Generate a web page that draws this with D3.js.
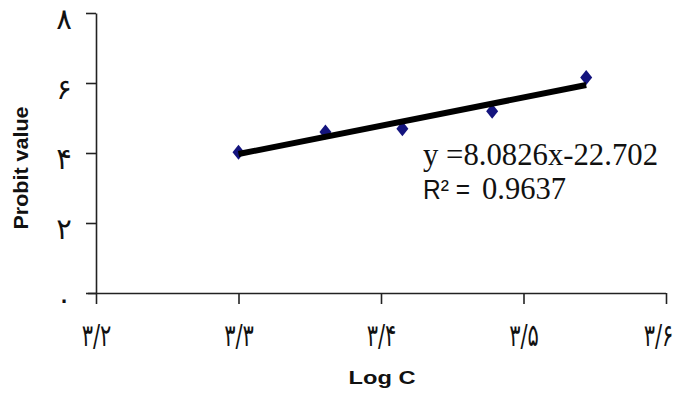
<!DOCTYPE html>
<html>
<head>
<meta charset="utf-8">
<script src="https://cdn.jsdelivr.net/npm/d3@7"></script>
<style>
  body { margin: 0; background: #fff; }
</style>
</head>
<body>
<svg id="chart"></svg>
<script>
// data
let logC = [3.30, 3.361, 3.415, 3.478, 3.544];
let probit = [4.02, 4.60, 4.69, 5.19, 6.16];
let xTicks = [3.2, 3.3, 3.4, 3.5, 3.6];
let xTickLabels = ["۳/۲", "۳/۳", "۳/۴", "۳/۵", "۳/۶"];
let yTicks = [0, 2, 4, 6, 8];
let yTickLabels = ["٠", "۲", "۴", "۶", "۸"];
let slope = 8.0826, intercept = -22.702;
let equationText = "y =8.0826x-22.702";
let r2Label = "R² =";
let r2Value = "0.9637";

let width = 683, height = 394;

let svg = d3.select("#chart")
  .attr("width", width)
  .attr("height", height);

let x = d3.scaleLinear().domain([3.2, 3.6]).range([96, 666]);
let y = d3.scaleLinear().domain([0, 8]).range([293, 13]);

// x axis
let xAxis = svg.append("g")
  .attr("transform", `translate(0,${y(0)})`)
  .call(d3.axisBottom(x).tickValues(xTicks).tickSize(11).tickSizeOuter(0).tickFormat((d, i) => xTickLabels[i]));

xAxis.select(".domain").attr("d", `M${x(3.2) - 8},0.5H${x(3.6)}`);
xAxis.selectAll("line, path").attr("stroke", "#222").attr("stroke-width", 1.6);
// labels squeezed sideways like the original
xAxis.selectAll("text")
  .attr("y", 42)
  .attr("dy", "0.35em")
  .attr("transform", "scale(0.68,1)")
  .attr("fill", "#111")
  .style("font-family", "'DejaVu Sans', sans-serif")
  .style("font-size", "31px");

// keep the last label inside the page
xAxis.selectAll(".tick").filter(d => d === 3.6).select("text")
  .attr("x", -8 / 0.68);

// y axis
let yAxis = svg.append("g")
  .attr("transform", `translate(${x(3.2)},0)`)
  .call(d3.axisLeft(y).tickValues(yTicks).tickSize(10).tickSizeOuter(0).tickFormat((d, i) => yTickLabels[i]));

yAxis.selectAll("line, path").attr("stroke", "#222").attr("stroke-width", 1.6);
yAxis.selectAll("text")
  .attr("x", -32)
  .attr("dy", "0.55em")
  .attr("text-anchor", "middle")
  .attr("fill", "#111")
  .style("font-family", "'DejaVu Sans', sans-serif")
  .style("font-size", "29px");

// axis titles
svg.append("text")
  .attr("transform", `translate(28,168) rotate(-90)`)
  .attr("text-anchor", "middle")
  .attr("textLength", 123)
  .attr("lengthAdjust", "spacingAndGlyphs")
  .style("font-family", "'Liberation Sans', Arial, sans-serif")
  .style("font-weight", "bold")
  .style("font-size", "20px")
  .attr("fill", "#111")
  .text("Probit value");

svg.append("text")
  .attr("x", 382)
  .attr("y", 384)
  .attr("text-anchor", "middle")
  .attr("textLength", 67)
  .attr("lengthAdjust", "spacingAndGlyphs")
  .style("font-family", "'Liberation Sans', Arial, sans-serif")
  .style("font-weight", "bold")
  .style("font-size", "19px")
  .attr("fill", "#111")
  .text("Log C");

// points
let diamond = "M0,-7.5L6,0L0,7.5L-6,0Z";
svg.append("g")
  .selectAll("path")
  .data(logC)
  .enter().append("path")
  .attr("d", diamond)
  .attr("transform", (d, i) => `translate(${x(d)},${y(probit[i])})`)
  .attr("fill", "#14147e");

// trend line
let xr = d3.extent(logC);
svg.append("path")
  .datum(xr)
  .attr("fill", "none")
  .attr("stroke", "#000")
  .attr("stroke-width", 6)
  .attr("d", d3.line().x(d => x(d)).y(d => y(slope * d + intercept)));

// equation
svg.append("text")
  .attr("x", 423)
  .attr("y", 165)
  .attr("textLength", 235)
  .attr("lengthAdjust", "spacingAndGlyphs")
  .style("font-family", "'Liberation Serif', 'Times New Roman', serif")
  .style("font-size", "31px")
  .attr("fill", "#111")
  .text(equationText);

svg.append("text")
  .attr("x", 423)
  .attr("y", 199)
  .attr("textLength", 47)
  .attr("lengthAdjust", "spacingAndGlyphs")
  .style("font-family", "'Liberation Sans', Arial, sans-serif")
  .style("font-size", "27px")
  .attr("fill", "#111")
  .text(r2Label);

svg.append("text")
  .attr("x", 482)
  .attr("y", 199)
  .attr("textLength", 84)
  .attr("lengthAdjust", "spacingAndGlyphs")
  .style("font-family", "'Liberation Serif', 'Times New Roman', serif")
  .style("font-size", "31px")
  .attr("fill", "#111")
  .text(r2Value);
</script>
</body>
</html>
